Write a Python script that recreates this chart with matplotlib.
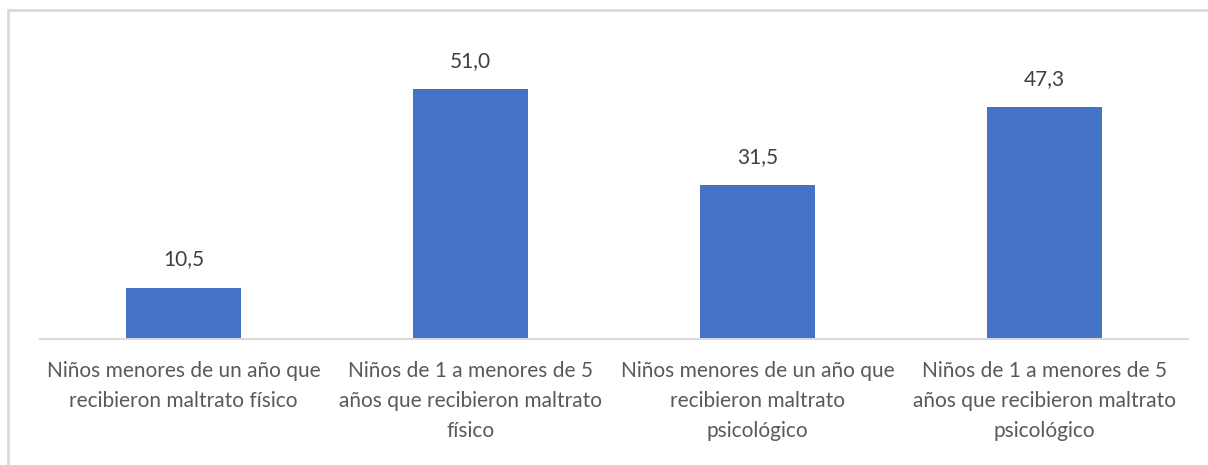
import matplotlib.pyplot as plt
from matplotlib.patches import Rectangle

categories = [
    "Niños menores de un año que\nrecibieron maltrato físico",
    "Niños de 1 a menores de 5\naños que recibieron maltrato\nfísico",
    "Niños menores de un año que\nrecibieron maltrato\npsicológico",
    "Niños de 1 a menores de 5\naños que recibieron maltrato\npsicológico",
]
values = [10.5, 51.0, 31.5, 47.3]

plt.rcParams["font.family"] = ["Lato", "DejaVu Sans"]

fig = plt.figure(figsize=(12.08, 4.65), dpi=100)
ax = fig.add_axes([40 / 1208, 1 - 339 / 465, 1148 / 1208, 294 / 465])

x = range(len(values))
ax.bar(x, values, width=0.4, color="#4472C4")
ax.set_xlim(-0.5, len(values) - 0.5)
ax.set_ylim(0, 60)

for xi, v in zip(x, values):
    ax.annotate(f"{v:.1f}".replace(".", ","), (xi, v), xytext=(0, 13),
                textcoords="offset points", ha="center", va="bottom",
                fontsize=15, color="#404040")

ax.set_xticks(list(x))
ax.set_xticklabels(categories, fontsize=15, color="#595959", linespacing=1.62)
ax.tick_params(axis="x", length=0, pad=16)
ax.set_yticks([])
for side in ["left", "right", "top"]:
    ax.spines[side].set_visible(False)
ax.spines["bottom"].set_color("#d9d9d9")
ax.spines["bottom"].set_linewidth(1.5)

# chart area border
fig.patches.append(Rectangle((8 / 1208, -0.1), 1.2, 1 - 10 / 465 + 0.1,
                             transform=fig.transFigure, fill=False,
                             edgecolor="#d9d9d9", linewidth=2))

fig.savefig("out.png", dpi=100)
